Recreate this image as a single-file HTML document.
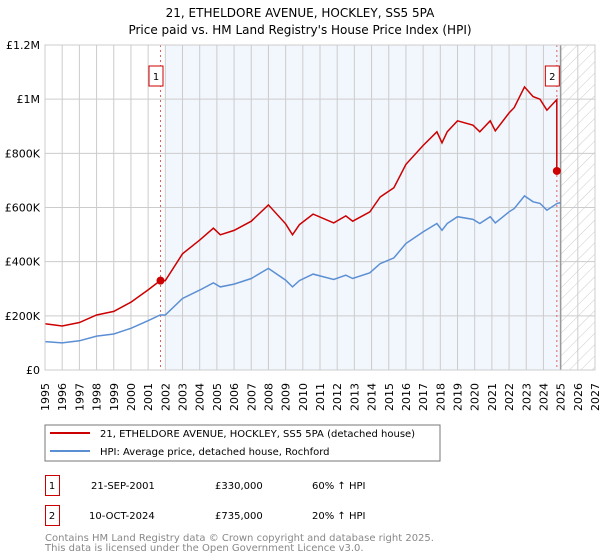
<!DOCTYPE html>
<html><head><meta charset="utf-8"><style>
body{margin:0;background:#fff;font-family:"DejaVu Sans","Liberation Sans",sans-serif}
svg{display:block}
</style></head><body>
<svg id="c" width="600" height="560" xmlns="http://www.w3.org/2000/svg" font-family="DejaVu Sans, Liberation Sans, sans-serif">
<defs><pattern id="hatch" width="8" height="8" patternUnits="userSpaceOnUse" patternTransform="rotate(45)"><line x1="0" y1="0" x2="0" y2="8" stroke="#ccc" stroke-width="1"/></pattern></defs>
<text x="300" y="17" text-anchor="middle" font-size="12">21, ETHELDORE AVENUE, HOCKLEY, SS5 5PA</text>
<text x="300" y="34" text-anchor="middle" font-size="12">Price paid vs. HM Land Registry's House Price Index (HPI)</text>
<g id="plot"></g>
<rect x="45" y="425" width="395" height="36" fill="#fff" stroke="#777"/>
<line x1="50" y1="433" x2="90" y2="433" stroke="#cc0000" stroke-width="2"/>
<text x="100" y="437" font-size="10">21, ETHELDORE AVENUE, HOCKLEY, SS5 5PA (detached house)</text>
<line x1="50" y1="451" x2="90" y2="451" stroke="#5b8fd4" stroke-width="2"/>
<text x="100" y="455" font-size="10">HPI: Average price, detached house, Rochford</text>
<g font-size="10">
<rect x="45.5" y="475.5" width="14" height="20" fill="none" stroke="#cc0000"/>
<text x="52" y="489" text-anchor="middle">1</text>
<text x="91" y="489">21-SEP-2001</text>
<text x="215" y="489">£330,000</text>
<text x="312" y="489">60% ↑ HPI</text>
<rect x="45.5" y="505.5" width="14" height="20" fill="none" stroke="#cc0000"/>
<text x="52" y="519" text-anchor="middle">2</text>
<text x="89" y="519">10-OCT-2024</text>
<text x="215" y="519">£735,000</text>
<text x="312" y="519">20% ↑ HPI</text>
</g>
<text x="45" y="541" font-size="10" fill="#888">Contains HM Land Registry data © Crown copyright and database right 2025.</text>
<text x="45" y="551" font-size="10" fill="#888">This data is licensed under the Open Government Licence v3.0.</text>
</svg>
<script>
const hpiYears=[1995,1996,1997,1998,1999,2000,2001,2001.7,2002,2003,2004,2004.8,2005.2,2006,2007,2008,2009,2009.4,2009.8,2010.6,2011.8,2012.5,2012.9,2013.9,2014.5,2015.3,2016,2017,2017.8,2018.1,2018.4,2019,2019.9,2020.3,2020.9,2021.2,2022,2022.3,2022.9,2023.4,2023.8,2024.2,2024.8,2025];
const hpiValues=[105000,100000,108000,125000,133000,154000,182000,203000,203000,264000,295000,322000,307000,317000,338000,375000,332000,307000,330000,354000,334000,350000,338000,359000,393000,414000,467000,510000,541000,516000,541000,566000,556000,541000,566000,543000,584000,596000,643000,621000,615000,590000,615000,618000];
const saleYears=[2001.72,2024.78];
const salePrices=[330000,735000];
const yTicks=[0,200000,400000,600000,800000,1000000,1200000];
const yTickLabels=["£0","£200K","£400K","£600K","£800K","£1M","£1.2M"];
const xTicks=[1995,1996,1997,1998,1999,2000,2001,2002,2003,2004,2005,2006,2007,2008,2009,2010,2011,2012,2013,2014,2015,2016,2017,2018,2019,2020,2021,2022,2023,2024,2025,2026,2027];
const L=45,R=595,T=45,B=370,X0=1995,X1=2027,YMAX=1200000;
const xs=y=>L+(y-X0)/(X1-X0)*(R-L);
const ys=v=>B-v/YMAX*(B-T);
const NS="http://www.w3.org/2000/svg";
const g=document.getElementById('plot');
function mk(t,a){const e=document.createElementNS(NS,t);for(const k in a)e.setAttribute(k,a[k]);g.appendChild(e);return e;}
function hpiAt(y){for(let i=1;i<hpiYears.length;i++){if(y<=hpiYears[i]){const t=(y-hpiYears[i-1])/(hpiYears[i]-hpiYears[i-1]);return hpiValues[i-1]+t*(hpiValues[i]-hpiValues[i-1]);}}return hpiValues[hpiValues.length-1];}
let e=mk('rect',{x:L,y:T,width:R-L,height:B-T,fill:'#fff'});


e=mk('rect',{x:xs(2002),y:T,width:xs(2025)-xs(2002),height:B-T,fill:'#f2f6fd'});


e=mk('rect',{x:xs(2025),y:T,width:R-xs(2025),height:B-T,fill:'url(#hatch)'});


xTicks.forEach(t=>{
 e=mk('line',{x1:xs(t),x2:xs(t),y1:T,y2:B,stroke:'#ccc','stroke-width':1});
 
 
 e=mk('text',{x:0,y:0,transform:`translate(${xs(t)+4},${B+13}) rotate(-90)`,'text-anchor':'end','font-size':11});
 e.textContent=t;
 
 
});
yTicks.forEach((t,i)=>{
 e=mk('line',{x1:L,x2:R,y1:ys(t),y2:ys(t),stroke:'#ccc','stroke-width':1});
 
 
 e=mk('text',{x:L-5,y:ys(t)+4,'text-anchor':'end','font-size':11});
 e.textContent=yTickLabels[i];
 
 
});
e=mk('line',{x1:xs(2025),x2:xs(2025),y1:T,y2:B,stroke:'#999','stroke-width':1.5});


saleYears.forEach((s,i)=>{
 e=mk('line',{x1:xs(s),x2:xs(s),y1:T,y2:B,stroke:'#e06060','stroke-width':1,'stroke-dasharray':'2,3'});
 
 
 e=mk('rect',{x:xs(s)-11.5,y:66,width:14,height:20,fill:'#fff',stroke:'#cc0000'});
 
 
 e=mk('text',{x:xs(s)-4.5,y:80,'text-anchor':'middle','font-size':10});
 e.textContent=String(i+1);
 
 
});
let d=hpiYears.map((y,i)=>(i?'L':'M')+xs(y).toFixed(1)+','+ys(hpiValues[i]).toFixed(1)).join('');
e=mk('path',{d:d,fill:'none',stroke:'#5b8fd4','stroke-width':1.5});


const f1=salePrices[0]/hpiAt(saleYears[0]);
const f2=salePrices[1]/hpiAt(saleYears[1]);
let pts=[];
hpiYears.forEach((y,i)=>{if(y<saleYears[1])pts.push([y,hpiValues[i]*f1]);});
pts.push([saleYears[1],hpiAt(saleYears[1])*f1]);
pts.push([saleYears[1],salePrices[1]]);
pts.push([2025,hpiAt(2025)*f2]);
d=pts.map((p,i)=>(i?'L':'M')+xs(p[0]).toFixed(1)+','+ys(p[1]).toFixed(1)).join('');
e=mk('path',{d:d,fill:'none',stroke:'#cc0000','stroke-width':1.5});


saleYears.forEach((s,i)=>{
 e=mk('circle',{cx:xs(s),cy:ys(salePrices[i]),r:4,fill:'#cc0000'});
 
 
});
e=mk('rect',{x:L,y:T,width:R-L,height:B-T,fill:'none',stroke:'#ccc'});


</script>
</body></html>
